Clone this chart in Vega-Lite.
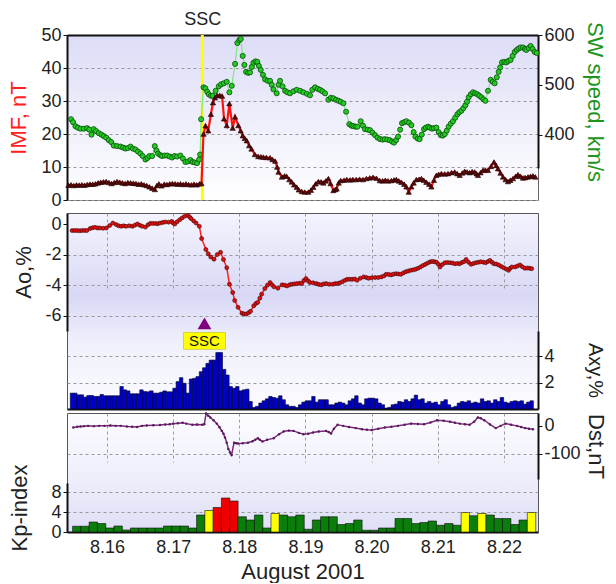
{
"$schema":"https://vega.github.io/schema/vega-lite/v6.json",
"background":"white",
"padding":{"left":7,"top":9,"right":4,"bottom":0},
"spacing":1,
"config":{"font":"Liberation Sans","axis":{"labelFontSize":18,"labelColor":"#222","titleFontSize":22,"titleFontWeight":"normal","titleColor":"#222","tickColor":"#111","domainColor":"#111","domainWidth":2,"tickSize":4,"labelPadding":2,"gridColor":"#9a9a9a","gridDash":[3,3],"gridWidth":1}},
"datasets":{
"events":[{"t":17.473,"label":"SSC"}],
"sw":[{"t":15.53,"v":431},{"t":15.56,"v":425},{"t":15.595,"v":417},{"t":15.63,"v":414},{"t":15.669,"v":412},{"t":15.72,"v":412},{"t":15.768,"v":413},{"t":15.8,"v":410},{"t":15.832,"v":400},{"t":15.866,"v":411},{"t":15.9,"v":407},{"t":15.94,"v":403},{"t":15.98,"v":400},{"t":16.014,"v":397},{"t":16.05,"v":394},{"t":16.088,"v":389},{"t":16.125,"v":385},{"t":16.162,"v":378},{"t":16.21,"v":377},{"t":16.261,"v":376},{"t":16.3,"v":374},{"t":16.335,"v":372},{"t":16.37,"v":373},{"t":16.409,"v":376},{"t":16.445,"v":372},{"t":16.483,"v":370},{"t":16.52,"v":366},{"t":16.557,"v":362},{"t":16.59,"v":357},{"t":16.631,"v":350},{"t":16.66,"v":353},{"t":16.69,"v":357},{"t":16.73,"v":357},{"t":16.769,"v":377},{"t":16.795,"v":368},{"t":16.818,"v":362},{"t":16.85,"v":359},{"t":16.877,"v":357},{"t":16.915,"v":358},{"t":16.951,"v":358},{"t":16.99,"v":356},{"t":17.025,"v":354},{"t":17.06,"v":357},{"t":17.099,"v":356},{"t":17.148,"v":358},{"t":17.185,"v":352},{"t":17.222,"v":345},{"t":17.26,"v":346},{"t":17.296,"v":349},{"t":17.33,"v":345},{"t":17.36,"v":344},{"t":17.395,"v":343},{"t":17.425,"v":350},{"t":17.44,"v":360},{"t":17.455,"v":431},{"t":17.49,"v":495},{"t":17.518,"v":493},{"t":17.545,"v":486},{"t":17.568,"v":481},{"t":17.6,"v":478},{"t":17.627,"v":478},{"t":17.67,"v":488},{"t":17.716,"v":497},{"t":17.75,"v":501},{"t":17.79,"v":503},{"t":17.834,"v":506},{"t":17.873,"v":485},{"t":17.908,"v":498},{"t":17.957,"v":542},{"t":17.991,"v":584},{"t":18.02,"v":590},{"t":18.041,"v":592},{"t":18.07,"v":558},{"t":18.095,"v":540},{"t":18.12,"v":526},{"t":18.15,"v":524},{"t":18.179,"v":525},{"t":18.205,"v":536},{"t":18.228,"v":544},{"t":18.26,"v":547},{"t":18.287,"v":546},{"t":18.31,"v":538},{"t":18.337,"v":530},{"t":18.37,"v":520},{"t":18.401,"v":511},{"t":18.44,"v":508},{"t":18.475,"v":508},{"t":18.5,"v":500},{"t":18.524,"v":491},{"t":18.573,"v":483},{"t":18.6,"v":500},{"t":18.623,"v":508},{"t":18.66,"v":497},{"t":18.697,"v":488},{"t":18.73,"v":485},{"t":18.77,"v":483},{"t":18.82,"v":487},{"t":18.869,"v":490},{"t":18.92,"v":488},{"t":18.968,"v":485},{"t":19.02,"v":482},{"t":19.066,"v":479},{"t":19.1,"v":490},{"t":19.14,"v":495},{"t":19.18,"v":492},{"t":19.214,"v":490},{"t":19.25,"v":487},{"t":19.288,"v":483},{"t":19.338,"v":470},{"t":19.375,"v":474},{"t":19.412,"v":473},{"t":19.45,"v":470},{"t":19.486,"v":468},{"t":19.52,"v":466},{"t":19.56,"v":463},{"t":19.6,"v":446},{"t":19.648,"v":421},{"t":19.68,"v":418},{"t":19.707,"v":417},{"t":19.74,"v":416},{"t":19.767,"v":416},{"t":19.816,"v":427},{"t":19.85,"v":418},{"t":19.88,"v":411},{"t":19.92,"v":410},{"t":19.954,"v":409},{"t":19.99,"v":404},{"t":20.028,"v":399},{"t":20.065,"v":394},{"t":20.102,"v":391},{"t":20.14,"v":390},{"t":20.172,"v":391},{"t":20.21,"v":390},{"t":20.246,"v":389},{"t":20.28,"v":386},{"t":20.31,"v":384},{"t":20.34,"v":389},{"t":20.369,"v":396},{"t":20.4,"v":410},{"t":20.428,"v":423},{"t":20.46,"v":425},{"t":20.492,"v":427},{"t":20.53,"v":424},{"t":20.566,"v":419},{"t":20.6,"v":405},{"t":20.625,"v":396},{"t":20.66,"v":392},{"t":20.689,"v":391},{"t":20.72,"v":400},{"t":20.753,"v":411},{"t":20.78,"v":414},{"t":20.813,"v":416},{"t":20.84,"v":414},{"t":20.872,"v":412},{"t":20.9,"v":413},{"t":20.936,"v":414},{"t":20.97,"v":405},{"t":21.0,"v":399},{"t":21.03,"v":398},{"t":21.059,"v":401},{"t":21.09,"v":408},{"t":21.118,"v":416},{"t":21.15,"v":422},{"t":21.182,"v":427},{"t":21.215,"v":434},{"t":21.247,"v":441},{"t":21.275,"v":445},{"t":21.306,"v":448},{"t":21.335,"v":453},{"t":21.365,"v":459},{"t":21.39,"v":466},{"t":21.414,"v":475},{"t":21.445,"v":481},{"t":21.478,"v":485},{"t":21.51,"v":483},{"t":21.542,"v":481},{"t":21.57,"v":478},{"t":21.602,"v":475},{"t":21.63,"v":471},{"t":21.661,"v":468},{"t":21.7,"v":488},{"t":21.74,"v":510},{"t":21.77,"v":506},{"t":21.799,"v":503},{"t":21.83,"v":515},{"t":21.858,"v":526},{"t":21.88,"v":535},{"t":21.907,"v":545},{"t":21.94,"v":546},{"t":21.971,"v":545},{"t":22.0,"v":548},{"t":22.035,"v":550},{"t":22.065,"v":558},{"t":22.095,"v":566},{"t":22.125,"v":570},{"t":22.154,"v":573},{"t":22.185,"v":575},{"t":22.218,"v":575},{"t":22.245,"v":572},{"t":22.267,"v":570},{"t":22.3,"v":574},{"t":22.331,"v":578},{"t":22.36,"v":572},{"t":22.39,"v":566},{"t":22.42,"v":564}],
"imf":[{"t":15.49,"v":4.5},{"t":15.53,"v":4.6},{"t":15.57,"v":4.4},{"t":15.61,"v":4.6},{"t":15.65,"v":4.5},{"t":15.69,"v":4.6},{"t":15.73,"v":4.5},{"t":15.77,"v":4.7},{"t":15.81,"v":4.8},{"t":15.85,"v":4.8},{"t":15.89,"v":4.9},{"t":15.93,"v":5.2},{"t":15.97,"v":5.4},{"t":16.01,"v":5.5},{"t":16.05,"v":5.6},{"t":16.09,"v":5.3},{"t":16.13,"v":5.0},{"t":16.17,"v":5.3},{"t":16.21,"v":5.6},{"t":16.25,"v":5.4},{"t":16.29,"v":5.2},{"t":16.33,"v":5.0},{"t":16.37,"v":5.3},{"t":16.41,"v":5.2},{"t":16.45,"v":5.1},{"t":16.49,"v":5.0},{"t":16.53,"v":4.8},{"t":16.57,"v":4.9},{"t":16.61,"v":4.6},{"t":16.65,"v":4.4},{"t":16.69,"v":4.0},{"t":16.73,"v":3.6},{"t":16.77,"v":3.2},{"t":16.8,"v":4.4},{"t":16.83,"v":4.9},{"t":16.87,"v":4.3},{"t":16.91,"v":4.8},{"t":16.95,"v":4.7},{"t":16.99,"v":4.9},{"t":17.03,"v":5.0},{"t":17.07,"v":4.9},{"t":17.11,"v":4.8},{"t":17.15,"v":4.9},{"t":17.19,"v":4.7},{"t":17.23,"v":4.9},{"t":17.27,"v":4.7},{"t":17.31,"v":4.6},{"t":17.35,"v":4.8},{"t":17.39,"v":4.6},{"t":17.43,"v":4.9},{"t":17.46,"v":5.0},{"t":17.49,"v":20},{"t":17.52,"v":22.5},{"t":17.56,"v":21},{"t":17.6,"v":26},{"t":17.63,"v":29.5},{"t":17.66,"v":31},{"t":17.69,"v":31.7},{"t":17.73,"v":31.7},{"t":17.765,"v":31.5},{"t":17.794,"v":24.6},{"t":17.834,"v":22.6},{"t":17.873,"v":29.2},{"t":17.922,"v":21.8},{"t":17.957,"v":25.2},{"t":18.006,"v":22.6},{"t":18.04,"v":21},{"t":18.07,"v":19.5},{"t":18.1,"v":18.7},{"t":18.13,"v":18},{"t":18.165,"v":16.5},{"t":18.2,"v":15.5},{"t":18.25,"v":13.8},{"t":18.3,"v":13.2},{"t":18.34,"v":13.1},{"t":18.376,"v":13},{"t":18.42,"v":12.9},{"t":18.475,"v":12.8},{"t":18.51,"v":12.3},{"t":18.55,"v":11.8},{"t":18.58,"v":10},{"t":18.6,"v":8.5},{"t":18.65,"v":7},{"t":18.69,"v":7.3},{"t":18.72,"v":7.2},{"t":18.76,"v":6.2},{"t":18.795,"v":5.5},{"t":18.83,"v":4.6},{"t":18.869,"v":3.9},{"t":18.9,"v":3.1},{"t":18.943,"v":2.6},{"t":18.99,"v":2.4},{"t":19.042,"v":2.4},{"t":19.08,"v":3.0},{"t":19.116,"v":3.9},{"t":19.15,"v":4.9},{"t":19.19,"v":5.6},{"t":19.23,"v":5.5},{"t":19.264,"v":5.2},{"t":19.3,"v":5.8},{"t":19.338,"v":6.5},{"t":19.37,"v":5},{"t":19.412,"v":2.9},{"t":19.44,"v":3.2},{"t":19.461,"v":3.4},{"t":19.49,"v":5.2},{"t":19.52,"v":5.9},{"t":19.57,"v":6.0},{"t":19.61,"v":6.2},{"t":19.66,"v":6.1},{"t":19.7,"v":6.2},{"t":19.75,"v":6.2},{"t":19.8,"v":6.3},{"t":19.85,"v":6.2},{"t":19.9,"v":6.5},{"t":19.95,"v":6.7},{"t":20.0,"v":6.9},{"t":20.05,"v":6.6},{"t":20.098,"v":5.9},{"t":20.14,"v":5.8},{"t":20.18,"v":6.0},{"t":20.22,"v":5.8},{"t":20.27,"v":5.9},{"t":20.31,"v":6.1},{"t":20.344,"v":6.2},{"t":20.38,"v":5.8},{"t":20.418,"v":5.4},{"t":20.46,"v":4.8},{"t":20.492,"v":4.0},{"t":20.527,"v":2.4},{"t":20.566,"v":4.0},{"t":20.6,"v":5.2},{"t":20.64,"v":6.2},{"t":20.68,"v":6.3},{"t":20.714,"v":6.5},{"t":20.75,"v":6.0},{"t":20.788,"v":5.4},{"t":20.83,"v":4.8},{"t":20.862,"v":4.0},{"t":20.9,"v":6.0},{"t":20.936,"v":7.5},{"t":20.97,"v":7.8},{"t":21.01,"v":8.0},{"t":21.06,"v":7.9},{"t":21.108,"v":8.0},{"t":21.16,"v":8.3},{"t":21.207,"v":8.5},{"t":21.245,"v":8.0},{"t":21.281,"v":7.5},{"t":21.32,"v":8.2},{"t":21.355,"v":8.7},{"t":21.39,"v":8.5},{"t":21.429,"v":8.3},{"t":21.466,"v":8.6},{"t":21.503,"v":8.5},{"t":21.53,"v":8.0},{"t":21.552,"v":7.5},{"t":21.59,"v":8.3},{"t":21.626,"v":9.0},{"t":21.66,"v":9.1},{"t":21.7,"v":9.0},{"t":21.745,"v":10.2},{"t":21.789,"v":11.5},{"t":21.82,"v":10.5},{"t":21.848,"v":9.5},{"t":21.885,"v":8.2},{"t":21.922,"v":7.0},{"t":21.96,"v":6.2},{"t":21.996,"v":5.6},{"t":22.03,"v":6.0},{"t":22.07,"v":6.5},{"t":22.11,"v":7.2},{"t":22.144,"v":7.7},{"t":22.18,"v":7.2},{"t":22.218,"v":6.7},{"t":22.25,"v":6.8},{"t":22.292,"v":7.0},{"t":22.33,"v":7.2},{"t":22.366,"v":7.3},{"t":22.4,"v":7.0}],
"ao":[{"t":15.472,"v":-0.43},{"t":15.51,"v":-0.43},{"t":15.546,"v":-0.43},{"t":15.585,"v":-0.44},{"t":15.62,"v":-0.43},{"t":15.66,"v":-0.42},{"t":15.694,"v":-0.43},{"t":15.743,"v":-0.3},{"t":15.78,"v":-0.25},{"t":15.817,"v":-0.22},{"t":15.855,"v":-0.26},{"t":15.891,"v":-0.26},{"t":15.94,"v":-0.28},{"t":15.99,"v":-0.26},{"t":16.04,"v":-0.1},{"t":16.088,"v":0.06},{"t":16.138,"v":-0.04},{"t":16.175,"v":-0.12},{"t":16.212,"v":-0.15},{"t":16.25,"v":-0.12},{"t":16.286,"v":-0.15},{"t":16.335,"v":-0.12},{"t":16.384,"v":-0.15},{"t":16.42,"v":-0.08},{"t":16.458,"v":0},{"t":16.495,"v":-0.08},{"t":16.532,"v":-0.15},{"t":16.581,"v":-0.2},{"t":16.62,"v":-0.05},{"t":16.655,"v":0.04},{"t":16.69,"v":0.04},{"t":16.73,"v":0.04},{"t":16.765,"v":0.02},{"t":16.8,"v":0.06},{"t":16.84,"v":0.1},{"t":16.877,"v":0.13},{"t":16.93,"v":0.12},{"t":16.976,"v":0.17},{"t":17.0,"v":0.06},{"t":17.025,"v":0},{"t":17.06,"v":0.15},{"t":17.099,"v":0.28},{"t":17.135,"v":0.4},{"t":17.173,"v":0.5},{"t":17.222,"v":0.56},{"t":17.25,"v":0.45},{"t":17.272,"v":0.35},{"t":17.31,"v":0.2},{"t":17.346,"v":0.06},{"t":17.395,"v":-0.15},{"t":17.43,"v":-0.95},{"t":17.494,"v":-1.67},{"t":17.53,"v":-1.95},{"t":17.568,"v":-2.16},{"t":17.617,"v":-2.3},{"t":17.666,"v":-2.0},{"t":17.716,"v":-1.85},{"t":17.76,"v":-2.32},{"t":17.81,"v":-2.86},{"t":17.85,"v":-3.94},{"t":17.9,"v":-4.48},{"t":17.93,"v":-5.0},{"t":17.98,"v":-5.45},{"t":18.04,"v":-5.84},{"t":18.07,"v":-5.88},{"t":18.105,"v":-5.89},{"t":18.14,"v":-5.8},{"t":18.169,"v":-5.71},{"t":18.218,"v":-5.35},{"t":18.25,"v":-5.2},{"t":18.277,"v":-5.13},{"t":18.31,"v":-4.85},{"t":18.337,"v":-4.59},{"t":18.386,"v":-4.22},{"t":18.425,"v":-4.0},{"t":18.465,"v":-3.83},{"t":18.495,"v":-3.98},{"t":18.524,"v":-4.11},{"t":18.583,"v":-4.2},{"t":18.647,"v":-3.98},{"t":18.685,"v":-4.0},{"t":18.721,"v":-4.05},{"t":18.76,"v":-3.98},{"t":18.795,"v":-3.94},{"t":18.83,"v":-3.92},{"t":18.869,"v":-3.9},{"t":18.91,"v":-3.88},{"t":18.943,"v":-3.9},{"t":18.975,"v":-3.7},{"t":19.007,"v":-3.57},{"t":19.04,"v":-3.72},{"t":19.066,"v":-3.83},{"t":19.115,"v":-3.85},{"t":19.165,"v":-3.9},{"t":19.2,"v":-3.95},{"t":19.239,"v":-3.98},{"t":19.275,"v":-3.92},{"t":19.313,"v":-3.9},{"t":19.36,"v":-3.94},{"t":19.412,"v":-3.94},{"t":19.45,"v":-3.9},{"t":19.486,"v":-3.9},{"t":19.52,"v":-3.85},{"t":19.56,"v":-3.77},{"t":19.6,"v":-3.68},{"t":19.633,"v":-3.62},{"t":19.67,"v":-3.62},{"t":19.707,"v":-3.62},{"t":19.745,"v":-3.6},{"t":19.781,"v":-3.68},{"t":19.83,"v":-3.55},{"t":19.88,"v":-3.46},{"t":19.92,"v":-3.5},{"t":19.954,"v":-3.55},{"t":20.0,"v":-3.52},{"t":20.053,"v":-3.5},{"t":20.1,"v":-3.5},{"t":20.147,"v":-3.46},{"t":20.185,"v":-3.4},{"t":20.221,"v":-3.29},{"t":20.26,"v":-3.3},{"t":20.295,"v":-3.33},{"t":20.33,"v":-3.28},{"t":20.369,"v":-3.25},{"t":20.405,"v":-3.27},{"t":20.443,"v":-3.29},{"t":20.48,"v":-3.2},{"t":20.517,"v":-3.12},{"t":20.555,"v":-3.08},{"t":20.591,"v":-3.03},{"t":20.63,"v":-3.0},{"t":20.665,"v":-2.96},{"t":20.7,"v":-2.9},{"t":20.739,"v":-2.81},{"t":20.775,"v":-2.72},{"t":20.813,"v":-2.64},{"t":20.85,"v":-2.55},{"t":20.887,"v":-2.47},{"t":20.92,"v":-2.45},{"t":20.951,"v":-2.47},{"t":20.98,"v":-2.5},{"t":21.01,"v":-2.64},{"t":21.035,"v":-2.81},{"t":21.07,"v":-2.65},{"t":21.109,"v":-2.53},{"t":21.145,"v":-2.52},{"t":21.182,"v":-2.53},{"t":21.22,"v":-2.55},{"t":21.256,"v":-2.6},{"t":21.295,"v":-2.58},{"t":21.33,"v":-2.6},{"t":21.365,"v":-2.52},{"t":21.394,"v":-2.47},{"t":21.429,"v":-2.32},{"t":21.465,"v":-2.5},{"t":21.503,"v":-2.64},{"t":21.54,"v":-2.58},{"t":21.577,"v":-2.53},{"t":21.615,"v":-2.5},{"t":21.651,"v":-2.47},{"t":21.69,"v":-2.5},{"t":21.725,"v":-2.53},{"t":21.76,"v":-2.45},{"t":21.789,"v":-2.38},{"t":21.82,"v":-2.5},{"t":21.848,"v":-2.6},{"t":21.885,"v":-2.62},{"t":21.922,"v":-2.68},{"t":21.96,"v":-2.78},{"t":21.996,"v":-2.86},{"t":22.035,"v":-2.95},{"t":22.07,"v":-3.03},{"t":22.095,"v":-2.9},{"t":22.12,"v":-2.81},{"t":22.169,"v":-2.81},{"t":22.205,"v":-2.75},{"t":22.243,"v":-2.68},{"t":22.28,"v":-2.8},{"t":22.317,"v":-2.9},{"t":22.355,"v":-2.88},{"t":22.39,"v":-2.9},{"t":22.42,"v":-2.92}],
"axy":[{"t":15.47,"v":1.2},{"t":15.52,"v":1.2},{"t":15.57,"v":1.07},{"t":15.62,"v":1.07},{"t":15.67,"v":0.9},{"t":15.72,"v":1.02},{"t":15.77,"v":1.02},{"t":15.82,"v":0.95},{"t":15.87,"v":0.95},{"t":15.92,"v":1.1},{"t":15.97,"v":1.0},{"t":16.02,"v":1.0},{"t":16.07,"v":1.0},{"t":16.12,"v":1.0},{"t":16.17,"v":1.0},{"t":16.22,"v":1.7},{"t":16.27,"v":1.45},{"t":16.32,"v":1.37},{"t":16.37,"v":1.15},{"t":16.42,"v":1.15},{"t":16.47,"v":1.15},{"t":16.52,"v":1.45},{"t":16.57,"v":1.32},{"t":16.62,"v":1.3},{"t":16.67,"v":1.37},{"t":16.72,"v":1.2},{"t":16.77,"v":1.2},{"t":16.82,"v":1.27},{"t":16.87,"v":1.37},{"t":16.92,"v":1.3},{"t":16.97,"v":1.3},{"t":17.02,"v":1.57},{"t":17.07,"v":2.07},{"t":17.12,"v":2.37},{"t":17.17,"v":1.95},{"t":17.22,"v":1.2},{"t":17.27,"v":2.27},{"t":17.32,"v":2.32},{"t":17.37,"v":2.45},{"t":17.42,"v":2.82},{"t":17.47,"v":3.12},{"t":17.52,"v":3.45},{"t":17.57,"v":3.7},{"t":17.62,"v":3.7},{"t":17.67,"v":4.27},{"t":17.72,"v":4.27},{"t":17.77,"v":3.0},{"t":17.82,"v":2.57},{"t":17.87,"v":1.7},{"t":17.92,"v":1.57},{"t":17.97,"v":1.7},{"t":18.02,"v":1.37},{"t":18.07,"v":1.45},{"t":18.12,"v":1.5},{"t":18.17,"v":0.57},{"t":18.22,"v":0.12},{"t":18.27,"v":0.2},{"t":18.32,"v":0.45},{"t":18.37,"v":0.62},{"t":18.42,"v":0.77},{"t":18.47,"v":0.95},{"t":18.52,"v":0.87},{"t":18.57,"v":0.82},{"t":18.62,"v":1.0},{"t":18.67,"v":0.7},{"t":18.72,"v":0.32},{"t":18.77,"v":0.2},{"t":18.82,"v":0.2},{"t":18.87,"v":0.12},{"t":18.92,"v":0.32},{"t":18.97,"v":0.52},{"t":19.02,"v":0.62},{"t":19.07,"v":0.62},{"t":19.12,"v":0.95},{"t":19.17,"v":0.52},{"t":19.22,"v":0.7},{"t":19.27,"v":0.7},{"t":19.32,"v":0.7},{"t":19.37,"v":0.32},{"t":19.42,"v":0.32},{"t":19.47,"v":0.45},{"t":19.52,"v":0.52},{"t":19.57,"v":0.45},{"t":19.62,"v":0.32},{"t":19.67,"v":0.62},{"t":19.72,"v":0.77},{"t":19.77,"v":1.0},{"t":19.82,"v":0.45},{"t":19.87,"v":0.32},{"t":19.92,"v":0.77},{"t":19.97,"v":0.82},{"t":20.02,"v":0.82},{"t":20.07,"v":0.77},{"t":20.12,"v":0.45},{"t":20.17,"v":0.32},{"t":20.22,"v":0.07},{"t":20.27,"v":0.12},{"t":20.32,"v":0.32},{"t":20.37,"v":0.37},{"t":20.42,"v":0.57},{"t":20.47,"v":0.52},{"t":20.52,"v":0.7},{"t":20.57,"v":0.57},{"t":20.62,"v":0.77},{"t":20.67,"v":1.05},{"t":20.72,"v":0.7},{"t":20.77,"v":0.77},{"t":20.82,"v":0.45},{"t":20.87,"v":0.57},{"t":20.92,"v":0.45},{"t":20.97,"v":0.52},{"t":21.02,"v":0.32},{"t":21.07,"v":0.57},{"t":21.12,"v":0.7},{"t":21.17,"v":0.32},{"t":21.22,"v":0.12},{"t":21.27,"v":0.2},{"t":21.32,"v":0.45},{"t":21.37,"v":0.57},{"t":21.42,"v":0.52},{"t":21.47,"v":0.62},{"t":21.52,"v":0.45},{"t":21.57,"v":0.52},{"t":21.62,"v":0.45},{"t":21.67,"v":0.77},{"t":21.72,"v":0.57},{"t":21.77,"v":0.62},{"t":21.82,"v":0.45},{"t":21.87,"v":0.7},{"t":21.92,"v":0.57},{"t":21.97,"v":0.87},{"t":22.02,"v":0.52},{"t":22.07,"v":0.45},{"t":22.12,"v":0.57},{"t":22.17,"v":0.62},{"t":22.22,"v":0.57},{"t":22.27,"v":0.62},{"t":22.32,"v":0.37},{"t":22.37,"v":0.52},{"t":22.42,"v":0.62}],
"dst":[{"t":15.49,"v":-6},{"t":15.55,"v":-3},{"t":15.6,"v":-2},{"t":15.65,"v":-1},{"t":15.713,"v":0},{"t":15.8,"v":-1},{"t":15.88,"v":0},{"t":15.96,"v":0},{"t":16.05,"v":1},{"t":16.13,"v":0},{"t":16.207,"v":0},{"t":16.3,"v":-2},{"t":16.38,"v":-3},{"t":16.453,"v":-4},{"t":16.53,"v":0},{"t":16.6,"v":1},{"t":16.7,"v":2},{"t":16.8,"v":3},{"t":16.88,"v":5},{"t":16.947,"v":6},{"t":17.0,"v":8},{"t":17.07,"v":9},{"t":17.143,"v":11},{"t":17.2,"v":8},{"t":17.29,"v":4},{"t":17.36,"v":5},{"t":17.44,"v":4},{"t":17.47,"v":6},{"t":17.498,"v":44},{"t":17.53,"v":36},{"t":17.562,"v":30},{"t":17.61,"v":20},{"t":17.66,"v":8},{"t":17.7,"v":-5},{"t":17.735,"v":-18},{"t":17.76,"v":-28},{"t":17.784,"v":-42},{"t":17.81,"v":-60},{"t":17.834,"v":-83},{"t":17.86,"v":-95},{"t":17.883,"v":-104},{"t":17.92,"v":-60},{"t":17.95,"v":-62},{"t":17.98,"v":-63},{"t":18.05,"v":-62},{"t":18.13,"v":-60},{"t":18.2,"v":-55},{"t":18.24,"v":-50},{"t":18.28,"v":-44},{"t":18.31,"v":-50},{"t":18.35,"v":-56},{"t":18.42,"v":-50},{"t":18.52,"v":-44},{"t":18.6,"v":-30},{"t":18.67,"v":-20},{"t":18.75,"v":-17},{"t":18.82,"v":-18},{"t":18.9,"v":-25},{"t":18.97,"v":-30},{"t":19.04,"v":-28},{"t":19.115,"v":-24},{"t":19.2,"v":-20},{"t":19.31,"v":-18},{"t":19.35,"v":-22},{"t":19.387,"v":-27},{"t":19.43,"v":-10},{"t":19.485,"v":4},{"t":19.57,"v":0},{"t":19.658,"v":-4},{"t":19.76,"v":-8},{"t":19.855,"v":-12},{"t":19.93,"v":-14},{"t":20.003,"v":-15},{"t":20.1,"v":-10},{"t":20.2,"v":-6},{"t":20.3,"v":-3},{"t":20.398,"v":0},{"t":20.5,"v":4},{"t":20.595,"v":8},{"t":20.7,"v":7},{"t":20.792,"v":6},{"t":20.89,"v":12},{"t":20.99,"v":20},{"t":21.09,"v":18},{"t":21.186,"v":15},{"t":21.26,"v":11},{"t":21.334,"v":8},{"t":21.41,"v":6},{"t":21.482,"v":4},{"t":21.55,"v":15},{"t":21.606,"v":30},{"t":21.65,"v":27},{"t":21.704,"v":20},{"t":21.79,"v":5},{"t":21.877,"v":-8},{"t":21.95,"v":0},{"t":22.025,"v":8},{"t":22.11,"v":4},{"t":22.198,"v":0},{"t":22.26,"v":-4},{"t":22.32,"v":-8},{"t":22.38,"v":-10},{"t":22.44,"v":-12}],
"kp":[{"t":15.5425,"v":1.15},{"t":15.6675,"v":1.15},{"t":15.7925,"v":2.0},{"t":15.9175,"v":1.7},{"t":16.0425,"v":0.8},{"t":16.1675,"v":1.2},{"t":16.2925,"v":0.4},{"t":16.4175,"v":0.8},{"t":16.5425,"v":0.8},{"t":16.6675,"v":0.8},{"t":16.7925,"v":0.8},{"t":16.9175,"v":1.2},{"t":17.0425,"v":1.2},{"t":17.1675,"v":1.2},{"t":17.2925,"v":0.8},{"t":17.4175,"v":3.4},{"t":17.5425,"v":4.3},{"t":17.6675,"v":4.9},{"t":17.7925,"v":6.8},{"t":17.9175,"v":6.2},{"t":18.0425,"v":3.05},{"t":18.1675,"v":2.4},{"t":18.2925,"v":3.4},{"t":18.4175,"v":0.8},{"t":18.5425,"v":3.7},{"t":18.6675,"v":3.4},{"t":18.7925,"v":3.05},{"t":18.9175,"v":3.4},{"t":19.0425,"v":0.55},{"t":19.1675,"v":2.4},{"t":19.2925,"v":3.05},{"t":19.4175,"v":3.05},{"t":19.5425,"v":1.5},{"t":19.6675,"v":1.7},{"t":19.7925,"v":2.4},{"t":19.9175,"v":0.35},{"t":20.0425,"v":0.35},{"t":20.1675,"v":0.8},{"t":20.2925,"v":0.8},{"t":20.4175,"v":2.7},{"t":20.5425,"v":2.7},{"t":20.6675,"v":1.7},{"t":20.7925,"v":1.9},{"t":20.9175,"v":2.2},{"t":21.0425,"v":1.35},{"t":21.1675,"v":1.7},{"t":21.2925,"v":1.35},{"t":21.4175,"v":3.9},{"t":21.5425,"v":3.25},{"t":21.6675,"v":3.7},{"t":21.7925,"v":3.4},{"t":21.9175,"v":2.7},{"t":22.0425,"v":2.7},{"t":22.1675,"v":1.5},{"t":22.2925,"v":2.4},{"t":22.4175,"v":3.9}]
},
"vconcat":[
{
"width":471,"height":165,
"view":{"stroke":"#666","strokeWidth":1,"fill":{"gradient":"linear","x1":0,"y1":0,"x2":0,"y2":1,"stops":[{"offset":0,"color":"#dcdcf7"},{"offset":1,"color":"#ffffff"}]}},
"resolve":{"scale":{"y":"independent"}},
"encoding":{"x":{"field":"t","type":"quantitative","scale":{"domain":[15.47,22.44],"nice":false,"zero":false},"axis":{"orient":"top","values":[17.473],"labelExpr":"'SSC'","ticks":false,"grid":false,"domain":true,"labelFontSize":18,"labelPadding":7,"labelFlush":false,"labelOverlap":false,"title":null}}},
"layer":[
{"data":{"name":"events"},"mark":{"type":"rule","color":"#ffff00","strokeWidth":3}},
{"data":{"name":"sw"},
 "encoding":{"y":{"field":"v","type":"quantitative","scale":{"domain":[333,600],"range":[133,0],"nice":false,"zero":false},"axis":{"orient":"right","values":[400,500,600],"grid":false,"title":"SW speed, km/s","titleColor":"#1e961e","titlePadding":8}}},
 "layer":[{"mark":{"type":"line","color":"#7ee87e","strokeWidth":1.2}},{"mark":{"type":"point","shape":"circle","filled":true,"fill":"#22cc22","stroke":"#0a4a0a","strokeWidth":0.8,"size":26,"opacity":1}}]},
{"data":{"name":"imf"},
 "encoding":{"y":{"field":"v","type":"quantitative","scale":{"domain":[0,50],"nice":false,"zero":false},"axis":{"orient":"left","values":[0,10,20,30,40,50],"grid":true,"title":"IMF, nT","titleColor":"#ff2020","titlePadding":10}}},
 "layer":[{"mark":{"type":"line","color":"#ff1010","strokeWidth":2.2}},{"mark":{"type":"point","shape":"triangle-up","filled":true,"fill":"#5a0a0a","stroke":"#200000","strokeWidth":0.6,"size":28,"opacity":1}}]}
]
},
{"spacing":0,"vconcat":[
{
"width":471,"height":196,
"view":{"stroke":"#555","strokeWidth":1,"fill":{"gradient":"linear","x1":0,"y1":0,"x2":0,"y2":1,"stops":[{"offset":0,"color":"#f4f4fe"},{"offset":0.42,"color":"#d8d8f6"},{"offset":0.66,"color":"#f0f0fc"},{"offset":1,"color":"#fbfbff"}]}},
"resolve":{"scale":{"y":"independent"}},
"encoding":{"x":{"field":"t","type":"quantitative","scale":{"domain":[15.47,22.44],"nice":false,"zero":false},"axis":{"orient":"bottom","values":[16,17,18,19,20,21,22],"labels":false,"ticks":false,"grid":true,"domain":true,"title":null}}},
"layer":[
{"data":{"name":"axy"},"mark":{"type":"bar","orient":"vertical","size":3.4,"color":"#0000cc","stroke":"#000022","strokeWidth":0.6,"clip":true},
 "encoding":{"y":{"field":"v","type":"quantitative","scale":{"domain":[0,5.9],"range":[196,118],"nice":false,"zero":false},"axis":{"orient":"right","values":[2,4],"grid":true,"title":"Axy,%","titleFontSize":20,"titlePadding":30}}}},
{"data":{"name":"ao"},
 "encoding":{"y":{"field":"v","type":"quantitative","scale":{"domain":[-7,0.72],"range":[118,0],"nice":false,"zero":false},"axis":{"orient":"left","values":[0,-2,-4,-6],"labelExpr":"'' + datum.value","grid":true,"gridOpacity":{"condition":{"test":"datum.value === 0","value":0},"value":1},"title":"Ao,%","titlePadding":9}}},
 "layer":[{"mark":{"type":"line","color":"#ff2020","strokeWidth":1.5}},{"mark":{"type":"point","shape":"circle","filled":true,"fill":"#e01010","stroke":"#400000","strokeWidth":0.6,"size":16,"opacity":1}}]},
{"data":{"name":"events"},"mark":{"type":"point","shape":"triangle-up","filled":true,"color":"#800080","size":190,"opacity":1},
 "encoding":{"y":{"datum":-6.5,"type":"quantitative","scale":{"domain":[-7,0.72],"range":[118,0],"nice":false,"zero":false},"axis":null}}},
{"data":{"name":"events"},
 "encoding":{"y":{"datum":5.15,"type":"quantitative","scale":{"domain":[0,5.9],"range":[196,118],"nice":false,"zero":false},"axis":null}},
 "layer":[
  {"mark":{"type":"point","shape":"M-1,-0.4L1,-0.4L1,0.4L-1,0.4Z","filled":true,"fill":"#ffff00","stroke":"#b0b000","strokeWidth":0.5,"size":1764,"opacity":1}},
  {"mark":{"type":"text","fontSize":15,"color":"#111","baseline":"middle","align":"center"},"encoding":{"text":{"field":"label"}}}
 ]}
]
},
{
"width":471,"height":119,
"view":{"stroke":"#555","strokeWidth":1,"fill":{"gradient":"linear","x1":0,"y1":0,"x2":0,"y2":1,"stops":[{"offset":0,"color":"#fcfcff"},{"offset":0.55,"color":"#eeeefb"},{"offset":1,"color":"#dedef6"}]}},
"resolve":{"scale":{"y":"independent","color":"independent"}},
"encoding":{"x":{"field":"t","type":"quantitative","scale":{"domain":[15.47,22.44],"nice":false,"zero":false},"axis":{"orient":"bottom","values":[16,17,18,19,20,21,22],"labelExpr":"'8.' + datum.value","ticks":false,"grid":true,"domain":true,"labelPadding":6,"labelFlush":false,"title":"August 2001","titlePadding":5}}},
"layer":[
{"data":{"name":"kp"},"mark":{"type":"bar","orient":"vertical","size":8.45,"stroke":"#111","strokeWidth":0.6,"clip":true},
 "encoding":{
  "y":{"field":"v","type":"quantitative","scale":{"domain":[0,9.8],"range":[119,70],"nice":false,"zero":false},"axis":{"orient":"left","values":[0,4,8],"grid":true,"title":"Kp-index","titlePadding":19}},
  "color":{"field":"v","type":"quantitative","scale":{"type":"threshold","domain":[3.55,4.6],"range":["#0b7d0b","#ffff00","#ee0000"]},"legend":null}}},
{"data":{"name":"dst"},
 "encoding":{"y":{"field":"v","type":"quantitative","scale":{"domain":[-190,46],"range":[66,0],"nice":false,"zero":false},"axis":{"orient":"right","values":[0,-100],"labelExpr":"'' + datum.value","grid":true,"gridOpacity":{"condition":{"test":"datum.value === 0","value":0},"value":1},"title":"Dst,nT","titlePadding":3}}},
 "layer":[{"mark":{"type":"line","color":"#7a2a7a","strokeWidth":1.5}},{"mark":{"type":"point","shape":"circle","filled":true,"fill":"#5a1a5a","size":6,"opacity":1}}]}
]
}
]}
]
}
